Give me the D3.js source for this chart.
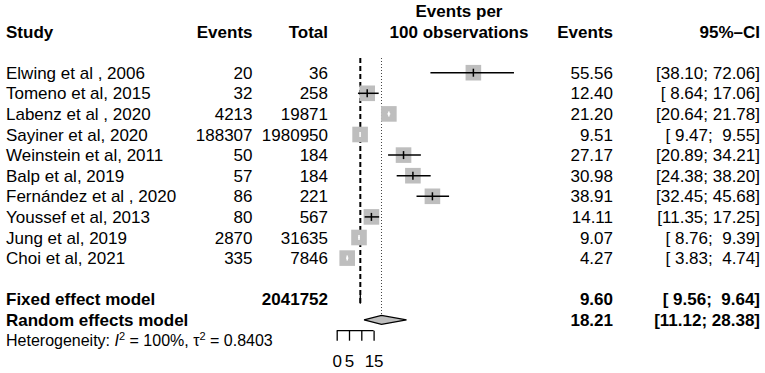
<!DOCTYPE html>
<html>
<head>
<meta charset="utf-8">
<script src="https://cdn.jsdelivr.net/npm/d3@7"></script>
<style>
  html, body { margin: 0; padding: 0; background: #fff; }
  svg text { font-family: "Liberation Sans", Arial, Helvetica, sans-serif; font-size: 17px; fill: #000; white-space: pre; }
  .b { font-weight: bold; }
</style>
</head>
<body>
<svg id="chart" width="765" height="373"></svg>
<script>
// ---- data ----
const studies = ["Elwing et al , 2006", "Tomeno et al, 2015", "Labenz et al , 2020", "Sayiner et al, 2020",
  "Weinstein et al, 2011", "Balp et al, 2019", "Fernández et al , 2020", "Youssef et al, 2013",
  "Jung et al, 2019", "Choi et al, 2021"];
const events = [20, 32, 4213, 188307, 50, 57, 86, 80, 2870, 335];
const totals = [36, 258, 19871, 1980950, 184, 184, 221, 567, 31635, 7846];
const rates = [55.56, 12.40, 21.20, 9.51, 27.17, 30.98, 38.91, 14.11, 9.07, 4.27];
const lowers = [38.10, 8.64, 20.64, 9.47, 20.89, 24.38, 32.45, 11.35, 8.76, 3.83];
const uppers = [72.06, 17.06, 21.78, 9.55, 34.21, 38.20, 45.68, 17.25, 9.39, 4.74];
const fixedModel = [9.60, 9.56, 9.64];
const randomModel = [18.21, 11.12, 28.38];
const totalObs = 2041752;
const tickValues = [0, 5, 10, 15];
const tickLabels = ["0", "5", "", "15"];

// ---- layout ----
const svg = d3.select("#chart");
const x = d3.scaleLinear().domain([0, 15]).range([336.7, 373.6]);
const y = d3.scaleLinear().domain([0, 1]).range([72.7, 93.3]); // row index -> y center

const colStudy = 6, colEvents = 252.5, colTotal = 328, colRate = 613, colCI = 760;
const fmt2 = d3.format(".2f");
const pad = (v, w) => { const s = fmt2(v); return " ".repeat(Math.max(0, w - s.length)) + s; };
const ciText = (lo, hi) => "[" + pad(lo, 5) + "; " + pad(hi, 5) + "]";

function txt(xp, yp, s, anchor, bold) {
  return svg.append("text").attr("x", xp).attr("y", yp).attr("dy", "0.36em")
    .attr("text-anchor", anchor).attr("class", bold ? "b" : null).text(s);
}

// headers
txt(colStudy, y(-2), "Study", "start", true);
txt(colEvents, y(-2), "Events", "end", true);
txt(colTotal, y(-2), "Total", "end", true);
txt(459, y(-3), "Events per", "middle", true);
txt(459, y(-2), "100 observations", "middle", true);
txt(colRate, y(-2), "Events", "end", true);
txt(colCI, y(-2), "95%\u2013CI", "end", true);

// reference lines
svg.append("line").attr("x1", x(fixedModel[0])).attr("x2", x(fixedModel[0]))
  .attr("y1", 58).attr("y2", y(11) + 4.5)
  .attr("stroke", "#000").attr("stroke-width", 2).attr("stroke-dasharray", "5,3");
svg.append("line").attr("x1", x(randomModel[0])).attr("x2", x(randomModel[0]))
  .attr("y1", 58).attr("y2", y(12) - 4.5)
  .attr("stroke", "#444").attr("stroke-width", 1).attr("stroke-dasharray", "1,2");

// study rows
const half = 7.8;
studies.forEach((s, i) => {
  const cy = y(i);
  txt(colStudy, cy, s, "start", false);
  txt(colEvents, cy, String(events[i]), "end", false);
  txt(colTotal, cy, String(totals[i]), "end", false);
  txt(colRate, cy, fmt2(rates[i]), "end", false);
  txt(colCI, cy, ciText(lowers[i], uppers[i]), "end", false);

  const cx = x(rates[i]);
  svg.append("rect").attr("x", cx - half).attr("y", cy - half)
    .attr("width", half * 2).attr("height", half * 2).attr("fill", "#bebebe");
  const inside = (x(uppers[i]) - x(lowers[i])) < 2 * half - 3;
  const col = inside ? "#fff" : "#000";
  svg.append("line").attr("x1", x(lowers[i])).attr("x2", x(uppers[i]))
    .attr("y1", cy).attr("y2", cy).attr("stroke", col).attr("stroke-width", 1.5);
  svg.append("line").attr("x1", cx).attr("x2", cx)
    .attr("y1", cy - (inside ? 2.5 : 4)).attr("y2", cy + (inside ? 2.5 : 4))
    .attr("stroke", col).attr("stroke-width", 1.5);
});

// summary rows
function diamond(m, cy) {
  const pts = [[x(m[1]), cy], [x(m[0]), cy - 4.5], [x(m[2]), cy], [x(m[0]), cy + 4.5]];
  svg.append("polygon").attr("points", pts.map(p => p.join(",")).join(" "))
    .attr("fill", "#bebebe").attr("stroke", "#000").attr("stroke-width", 1.2);
}
txt(colStudy, y(11), "Fixed effect model", "start", true);
txt(colTotal, y(11), String(totalObs), "end", true);
txt(colRate, y(11), fmt2(fixedModel[0]), "end", true);
txt(colCI, y(11), ciText(fixedModel[1], fixedModel[2]), "end", true);
diamond(fixedModel, y(11));

txt(colStudy, y(12), "Random effects model", "start", true);
txt(colRate, y(12), fmt2(randomModel[0]), "end", true);
txt(colCI, y(12), ciText(randomModel[1], randomModel[2]), "end", true);
diamond(randomModel, y(12));

// heterogeneity
const het = svg.append("text").attr("x", colStudy).attr("y", y(13)).attr("dy", "0.36em")
  .style("font-size", "16px");
het.append("tspan").text("Heterogeneity: ");
het.append("tspan").attr("font-style", "italic").text("I");
het.append("tspan").attr("baseline-shift", "super").style("font-size", "11px").text("2");
het.append("tspan").text(" = 100%, \u03c4");
het.append("tspan").attr("baseline-shift", "super").style("font-size", "11px").text("2");
het.append("tspan").text(" = 0.8403");

// axis
const axisY = 330.7;
const axis = d3.axisBottom(x).tickValues(tickValues).tickSize(10).tickPadding(14)
  .tickFormat((d, i) => tickLabels[i]);
const ag = svg.append("g").attr("transform", `translate(0,${axisY})`).call(axis);
ag.select(".domain").attr("d", `M${x(0)},0H${x(15)}`).attr("stroke", "#000").attr("stroke-width", 1.3);
ag.selectAll(".tick line").attr("stroke", "#000").attr("stroke-width", 1.3);
ag.selectAll(".tick text").attr("font-family", "Liberation Sans, Arial, sans-serif").attr("font-size", 17).attr("fill", "#000");
</script>
</body>
</html>
